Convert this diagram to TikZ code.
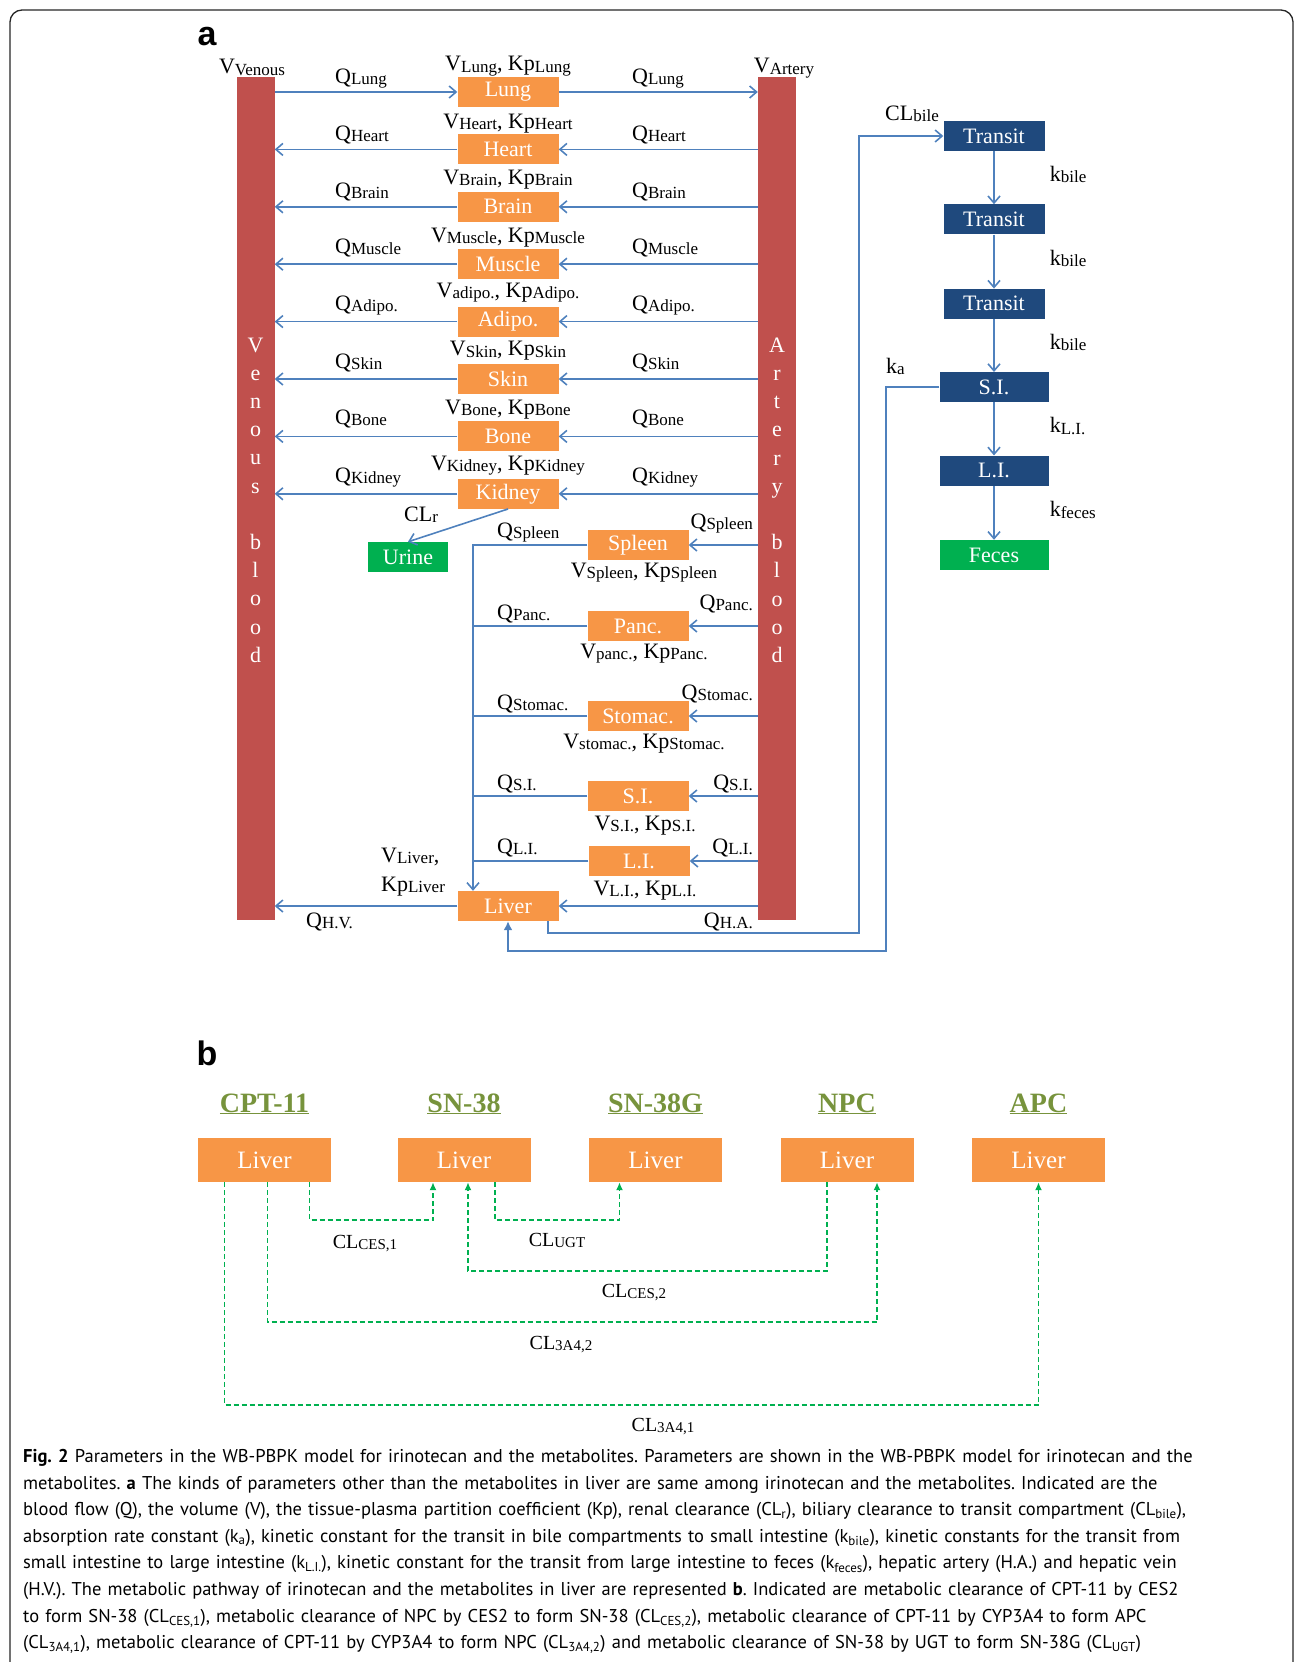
\documentclass[tikz,border=0pt]{standalone}
\usepackage{fontspec}
\setmainfont{Liberation Serif}
\newfontfamily\capfont{PT Sans}
\newfontfamily\labfont{Liberation Sans}
\usetikzlibrary{arrows.meta}
\usetikzlibrary{positioning}
\frenchspacing

\definecolor{orgc}{HTML}{F79646}
\definecolor{barc}{HTML}{C0504D}
\definecolor{linec}{HTML}{4F81BD}
\definecolor{bilec}{HTML}{1F497D}
\definecolor{fecc}{HTML}{00B050}
\definecolor{headc}{HTML}{77933C}

\newcommand{\subl}[2][17]{\raisebox{-1.2pt}{\fontsize{#1}{#1}\selectfont #2}}

\tikzset{
organ/.style={fill=orgc, text=white, minimum width=101pt, minimum height=30pt, inner sep=0pt},
bilebox/.style={fill=bilec, text=white, minimum width=101pt, minimum height=30pt, inner sep=0pt},
outbox/.style={fill=fecc, text=white, minimum height=30pt, inner sep=0pt},
blood/.style={fill=barc, minimum width=38pt, minimum height=843pt, inner sep=0pt},
flow/.style={draw=linec, line width=1.6pt, -{Straight Barb[length=7pt,width=12pt]}},
pipe/.style={draw=linec, line width=1.6pt},
lab/.style={inner sep=0pt, anchor=base west},
vk/.style={inner sep=0pt, anchor=base},
klab/.style={lab, xshift=55pt, yshift=-4pt},
clear/.style={draw=fecc, line width=1.6pt, dash pattern=on 5pt off 3pt, -{Latex[length=8pt,width=7pt]}},
liverb/.style={fill=orgc, text=white, minimum width=133pt, minimum height=44pt, inner sep=0pt, font=\fontsize{25}{25}\selectfont},
drug/.style={text=headc, inner sep=0pt, anchor=base, font=\fontsize{28}{28}\selectfont\bfseries},
cl/.style={inner sep=0pt, anchor=base, font=\fontsize{20}{20}\selectfont},
panel/.style={inner sep=0pt, font=\labfont\fontsize{34}{34}\selectfont\bfseries}
}

\begin{document}
\begin{tikzpicture}[x=1pt, y=-1pt, font=\fontsize{22}{24}\selectfont]
\useasboundingbox (0,0) rectangle (1295,1662);
\draw[line width=1.3pt, draw=black!85, rounded corners=12pt] (10,1662) -- (10,10) -- (1293,10) -- (1293,1662);

\node[panel] (pa) at (207,37) {a};
\node[blood] (ven) at (255.5,498.5) {};
\node[blood] (art) at (777,498.5) {};
\node[vk] (vven) at (252,74) {V\subl{Venous}};
\node[vk] (vart) at (784,73) {V\subl{Artery}};
\node[text=white, align=center, anchor=north, inner sep=0pt, font=\fontsize{22}{28.2}\selectfont] (ventxt) at (255.5,337.5) {V\\e\\n\\o\\u\\s\\[28.2pt]b\\l\\o\\o\\d};
\node[text=white, align=center, anchor=north, inner sep=0pt, font=\fontsize{22}{28.2}\selectfont] (arttxt) at (777,337.5) {A\\r\\t\\e\\r\\y\\[28.2pt]b\\l\\o\\o\\d};

\node[organ] (lung) at (508,92) {Lung};
\node[organ, below=27pt of lung] (heart) {Heart};
\node[organ, below=27pt of heart] (brain) {Brain};
\node[organ, below=27pt of brain] (muscle) {Muscle};
\node[organ, below=27pt of muscle] (adipo) {Adipo.};
\node[organ, below=27pt of adipo] (skin) {Skin};
\node[organ, below=27pt of skin] (bone) {Bone};
\node[organ, below=27pt of bone] (kidney) {Kidney};

\node[vk] (vklung) at ([yshift=6pt]lung.north) {V\subl{Lung}, Kp\subl{Lung}};
\node[vk] (vkheart) at ([yshift=6pt]heart.north) {V\subl{Heart}, Kp\subl{Heart}};
\node[vk] (vkbrain) at ([yshift=7pt]brain.north) {V\subl{Brain}, Kp\subl{Brain}};
\node[vk] (vkmuscle) at ([yshift=7pt]muscle.north) {V\subl{Muscle}, Kp\subl{Muscle}};
\node[vk] (vkadipo) at ([yshift=9pt]adipo.north) {V\subl{adipo.}, Kp\subl{Adipo.}};
\node[vk] (vkskin) at ([yshift=8pt]skin.north) {V\subl{Skin}, Kp\subl{Skin}};
\node[vk] (vkbone) at ([yshift=7pt]bone.north) {V\subl{Bone}, Kp\subl{Bone}};
\node[vk] (vkkidney) at ([yshift=8pt]kidney.north) {V\subl{Kidney}, Kp\subl{Kidney}};

\node[lab] (ql1) at (335,83) {Q\subl{Lung}};
\node[lab] (ql2) at (632,83) {Q\subl{Lung}};
\node[lab] (qh1) at (335,140) {Q\subl{Heart}};
\node[lab] (qh2) at (632,140) {Q\subl{Heart}};
\node[lab] (qb1) at (335,197) {Q\subl{Brain}};
\node[lab] (qb2) at (632,197) {Q\subl{Brain}};
\node[lab] (qm1) at (335,253) {Q\subl{Muscle}};
\node[lab] (qm2) at (632,253) {Q\subl{Muscle}};
\node[lab] (qa1) at (335,310) {Q\subl{Adipo.}};
\node[lab] (qa2) at (632,310) {Q\subl{Adipo.}};
\node[lab] (qs1) at (335,368) {Q\subl{Skin}};
\node[lab] (qs2) at (632,368) {Q\subl{Skin}};
\node[lab] (qo1) at (335,424) {Q\subl{Bone}};
\node[lab] (qo2) at (632,424) {Q\subl{Bone}};
\node[lab] (qk1) at (335,482) {Q\subl{Kidney}};
\node[lab] (qk2) at (632,482) {Q\subl{Kidney}};

\draw[flow] (ven.east |- lung) -- (lung);
\draw[flow] (lung) -- (art.west |- lung);
\draw[flow] (art.west |- heart) -- (heart);
\draw[flow] (heart) -- (ven.east |- heart);
\draw[flow] (art.west |- brain) -- (brain);
\draw[flow] (brain) -- (ven.east |- brain);
\draw[flow] (art.west |- muscle) -- (muscle);
\draw[flow] (muscle) -- (ven.east |- muscle);
\draw[flow] (art.west |- adipo) -- (adipo);
\draw[flow] (adipo) -- (ven.east |- adipo);
\draw[flow] (art.west |- skin) -- (skin);
\draw[flow] (skin) -- (ven.east |- skin);
\draw[flow] (art.west |- bone) -- (bone);
\draw[flow] (bone) -- (ven.east |- bone);
\draw[flow] (art.west |- kidney) -- (kidney);
\draw[flow] (kidney) -- (ven.east |- kidney);

\node[outbox, minimum width=80pt] (urine) at (408,557) {Urine};
\draw[flow] (kidney.south) -- (urine.north);
\node[lab] (clr) at (404,521) {CL\subl{r}};

\node[organ] (spleen) at (638,545) {Spleen};
\node[organ] (panc) at (638,626) {Panc.};
\node[organ] (stomac) at (638,716) {Stomac.};
\node[organ] (si) at (638,796) {S.I.};
\node[organ] (li) at (639,861) {L.I.};
\node[organ] (liver) at (508,906) {Liver};

\node[vk] (vkspleen) at ([xshift=6pt, yshift=-17pt]spleen.south) {V\subl{Spleen}, Kp\subl{Spleen}};
\node[vk] (vkpanc) at ([xshift=6pt, yshift=-17pt]panc.south) {V\subl{panc.}, Kp\subl{Panc.}};
\node[vk] (vkstomac) at ([xshift=6pt, yshift=-17pt]stomac.south) {V\subl{stomac.}, Kp\subl{Stomac.}};
\node[vk] (vksi) at ([xshift=7pt, yshift=-19pt]si.south) {V\subl{S.I.}, Kp\subl{S.I.}};
\node[vk] (vkli) at ([xshift=6pt, yshift=-19pt]li.south) {V\subl{L.I.}, Kp\subl{L.I.}};
\node[lab, anchor=north west, align=left, font=\fontsize{22}{29}\selectfont] (vkliver) at (381,848) {V\subl{Liver},\\Kp\subl{Liver}};

\node[lab] (qsp1) at (497,537) {Q\subl{Spleen}};
\node[lab, anchor=base east] (qsp2) at (753,528) {Q\subl{Spleen}};
\node[lab] (qpa1) at (497,619) {Q\subl{Panc.}};
\node[lab, anchor=base east] (qpa2) at (753,609) {Q\subl{Panc.}};
\node[lab] (qst1) at (497,709) {Q\subl{Stomac.}};
\node[lab, anchor=base east] (qst2) at (753,699) {Q\subl{Stomac.}};
\node[lab] (qsi1) at (497,789) {Q\subl{S.I.}};
\node[lab, anchor=base east] (qsi2) at (753,789) {Q\subl{S.I.}};
\node[lab] (qli1) at (497,853) {Q\subl{L.I.}};
\node[lab, anchor=base east] (qli2) at (753,853) {Q\subl{L.I.}};
\node[lab] (qhv) at (306,927) {Q\subl{H.V.}};
\node[lab, anchor=base east] (qha) at (753,927) {Q\subl{H.A.}};

\coordinate (colx) at (473,545);
\draw[flow] (spleen.west) -- (colx) -- (colx |- liver.north);
\draw[pipe] (panc) -- (panc -| colx);
\draw[pipe] (stomac) -- (stomac -| colx);
\draw[pipe] (si) -- (si -| colx);
\draw[pipe] (li) -- (li -| colx);
\draw[flow] (art.west |- spleen) -- (spleen);
\draw[flow] (art.west |- panc) -- (panc);
\draw[flow] (art.west |- stomac) -- (stomac);
\draw[flow] (art.west |- si) -- (si);
\draw[flow] (art.west |- li) -- (li);
\draw[flow] (art.west |- liver) -- (liver);
\draw[flow] (liver) -- (ven.east |- liver);

\node[bilebox] (tr1) at (994,136) {Transit};
\node[bilebox, below=53pt of tr1] (tr2) {Transit};
\node[bilebox, below=54pt of tr2] (tr3) {Transit};
\node[bilebox, minimum width=109pt, below=53pt of tr3] (si2) {S.I.};
\node[bilebox, minimum width=109pt, below=53pt of si2] (li2) {L.I.};
\node[outbox, minimum width=109pt, below=54pt of li2] (fec) {Feces};
\draw[flow] (tr1) -- node[klab] (kb1) {k\subl{bile}} (tr2);
\draw[flow] (tr2) -- node[klab] (kb2) {k\subl{bile}} (tr3);
\draw[flow] (tr3) -- node[klab] (kb3) {k\subl{bile}} (si2);
\draw[flow] (si2) -- node[klab] (kli) {k\subl{L.I.}} (li2);
\draw[flow] (li2) -- node[klab] (kfe) {k\subl{feces}} (fec);
\node[lab] (clbile) at (885,120) {CL\subl{bile}};
\node[lab] (ka) at (886,373) {k\subl{a}};

\coordinate (hab) at (859,933);
\coordinate (kab) at (886,951);
\draw[flow] ([xshift=-11pt]liver.south east) |- (hab) |- (tr1.west);
\draw[flow, -{Latex[length=9pt,width=9pt]}] (si2.west) -| (kab) -| (liver.south);

\node[panel] (pb) at (207,1053) {b};
\node[drug] (hcpt) at (264.5,1112) {\underline{CPT-11}};
\node[drug] (hsn) at (464,1112) {\underline{SN-38}};
\node[drug] (hsg) at (655.5,1112) {\underline{SN-38G}};
\node[drug] (hnpc) at (847,1112) {\underline{NPC}};
\node[drug] (hapc) at (1038.5,1112) {\underline{APC}};
\node[liverb] (cpt) at (264.5,1160) {Liver};
\node[liverb] (sn) at (464,1160) {Liver};
\node[liverb] (sg) at (655.5,1160) {Liver};
\node[liverb] (npc) at (847,1160) {Liver};
\node[liverb] (apc) at (1038.5,1160) {Liver};

\draw[clear] ([xshift=45pt]cpt.south) -- ++(0,38) -| ([xshift=-31pt]sn.south);
\draw[clear] ([xshift=31pt]sn.south) -- ++(0,38) -| ([xshift=-36pt]sg.south);
\draw[clear] ([xshift=-20pt]npc.south) -- ++(0,89) -| ([xshift=4pt]sn.south);
\draw[clear] ([xshift=3pt]cpt.south) -- ++(0,140) -| ([xshift=30pt]npc.south);
\draw[clear] ([xshift=-40pt]cpt.south) -- ++(0,223) -| (apc.south);
\node[cl] (cces1) at (365,1248) {CL\subl[15]{CES,1}};
\node[cl] (cugt) at (557,1246) {CL\subl[15]{UGT}};
\node[cl] (cces2) at (634,1297) {CL\subl[15]{CES,2}};
\node[cl] (c3a42) at (561,1349) {CL\subl[15]{3A4,2}};
\node[cl] (c3a41) at (663,1431) {CL\subl[15]{3A4,1}};

\node[inner sep=0pt, anchor=north west, text width=1262pt, align=left, font=\capfont\fontsize{18.5}{26.6}\selectfont] (cap) at (23,1449) {\textbf{Fig. 2} Parameters in the WB-PBPK model for irinotecan and the metabolites. Parameters are shown in the WB-PBPK model for irinotecan and the\\
metabolites. \textbf{a} The kinds of parameters other than the metabolites in liver are same among irinotecan and the metabolites. Indicated are the\\
blood flow (Q), the volume (V), the tissue-plasma partition coefficient (Kp), renal clearance (CL\textsubscript{r}), biliary clearance to transit compartment (CL\textsubscript{bile}),\\
absorption rate constant (k\textsubscript{a}), kinetic constant for the transit in bile compartments to small intestine (k\textsubscript{bile}), kinetic constants for the transit from\\
small intestine to large intestine (k\textsubscript{L.I.}), kinetic constant for the transit from large intestine to feces (k\textsubscript{feces}), hepatic artery (H.A.) and hepatic vein\\
(H.V.). The metabolic pathway of irinotecan and the metabolites in liver are represented \textbf{b}. Indicated are metabolic clearance of CPT-11 by CES2\\
to form SN-38 (CL\textsubscript{CES,1}), metabolic clearance of NPC by CES2 to form SN-38 (CL\textsubscript{CES,2}), metabolic clearance of CPT-11 by CYP3A4 to form APC\\
(CL\textsubscript{3A4,1}), metabolic clearance of CPT-11 by CYP3A4 to form NPC (CL\textsubscript{3A4,2}) and metabolic clearance of SN-38 by UGT to form SN-38G (CL\textsubscript{UGT})};
\end{tikzpicture}
\end{document}
